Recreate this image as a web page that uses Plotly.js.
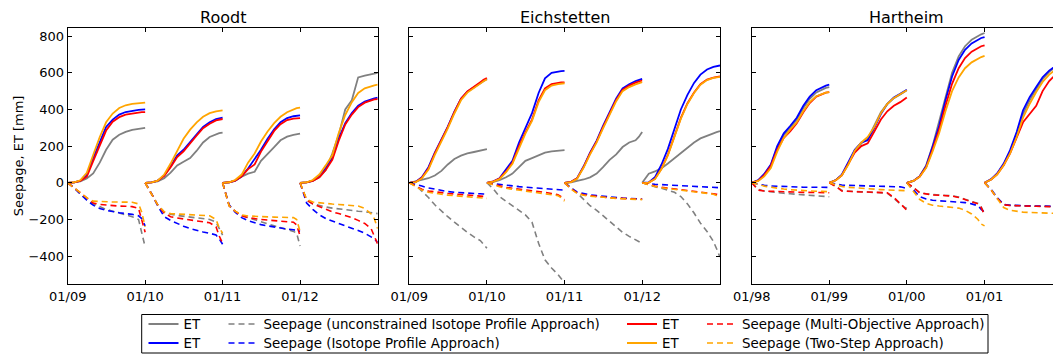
<!DOCTYPE html>
<html>
<head>
<meta charset="utf-8">
<script src="https://cdn.plot.ly/plotly-3.0.1.min.js"></script>
<style>html,body{margin:0;padding:0;background:#fff;}#chart{width:1053px;height:354px;}</style>
</head>
<body>
<div id="chart"></div>
<script>
// month offsets of the sampled points within each year (0 = 1 Jan, 12 = 1 Jan of next year)
const MONTHS = [0,1,2,3,4,5,6,7,8,9,10,11,11.5,12];

const panelNames = ['Roodt', 'Eichstetten', 'Hartheim'];
const roodtYears = [2009, 2010, 2011, 2012];
const eichYears = [2009, 2010, 2011, 2012];
const hartYears = [1998, 1999, 2000, 2001];
const tickLabelsRoodt = ['01/09','01/10','01/11','01/12'];
const tickLabelsEich = ['01/09','01/10','01/11','01/12'];
const tickLabelsHart = ['01/98','01/99','01/00','01/01'];

// ---------- Roodt ----------
const roodtEtGray = [
  [0,2,8,24,51,110,180,235,262,278,289,295,298,300],
  [0,2,8,25,55,95,115,135,175,220,250,266,271,274],
  [0,3,10,33,50,60,120,155,195,232,252,262,266,268],
  [0,2,10,30,70,160,260,400,450,575,585,592,596,600]];
const roodtEtBlue = [
  [0,2,12,42,135,225,305,345,372,386,394,398,399,400],
  [0,2,12,40,90,150,180,220,265,305,330,348,352,355],
  [0,3,12,35,78,130,180,240,292,330,353,363,366,368],
  [0,2,12,35,80,135,240,325,380,420,443,456,461,465]];
const roodtEtRed = [
  [0,2,10,33,118,205,285,333,358,372,379,383,385,386],
  [0,2,11,38,85,140,172,212,258,298,322,340,345,348],
  [0,3,12,35,75,100,170,230,283,320,342,350,352,353],
  [0,2,10,30,70,125,228,318,372,413,437,450,455,457]];
const roodtEtOrange = [
  [0,3,14,55,152,250,330,378,408,423,430,434,436,437],
  [0,2,12,45,105,170,240,290,330,360,380,390,393,395],
  [0,3,15,45,110,160,225,280,325,360,385,402,407,410],
  [0,3,15,45,95,150,270,370,440,490,515,527,532,535]];
const roodtSeepGray = [
  [0,-28,-60,-92,-115,-132,-145,-155,-165,-175,-185,-200,-270,-350],
  [0,-60,-120,-160,-172,-178,-182,-186,-190,-195,-200,-215,-250,-285],
  [0,-125,-155,-178,-190,-200,-212,-224,-235,-245,-255,-265,-275,-345],
  [0,-95,-115,-125,-132,-138,-143,-148,-152,-155,-158,-162,-165,-168]];
const roodtSeepBlue = [
  [0,-28,-60,-95,-122,-140,-150,-158,-163,-168,-172,-180,-195,-235],
  [0,-60,-125,-185,-205,-222,-237,-250,-260,-268,-275,-285,-305,-335],
  [0,-120,-160,-190,-207,-218,-228,-235,-242,-248,-252,-256,-260,-265],
  [0,-110,-145,-175,-195,-210,-222,-235,-247,-260,-275,-292,-305,-325]];
const roodtSeepRed = [
  [0,-28,-58,-85,-110,-118,-122,-125,-127,-128,-130,-140,-210,-270],
  [0,-60,-120,-165,-185,-192,-197,-200,-205,-210,-218,-240,-290,-330],
  [0,-125,-155,-180,-190,-196,-200,-203,-206,-209,-212,-215,-230,-290],
  [0,-95,-115,-130,-145,-158,-168,-178,-190,-205,-222,-250,-290,-335]];
const roodtSeepOrange = [
  [0,-28,-58,-82,-100,-103,-104,-105,-105,-105,-106,-115,-160,-240],
  [0,-60,-120,-158,-168,-170,-172,-173,-175,-176,-180,-200,-245,-275],
  [0,-125,-155,-175,-181,-184,-185,-186,-187,-188,-189,-190,-200,-265],
  [0,-90,-105,-110,-113,-116,-118,-120,-122,-127,-140,-170,-195,-250]];

// ---------- Eichstetten ----------
const eichEtGray = [
  [0,8,15,25,40,65,100,130,148,160,168,175,180,184],
  [0,5,15,30,50,85,120,135,150,165,172,175,177,178],
  [0,3,10,18,30,50,85,125,155,195,220,232,250,277],
  [0,50,62,80,105,135,165,195,220,242,258,270,276,282]];
const eichEtBlue = [
  [0,6,30,85,165,235,306,388,458,497,520,545,558,568],
  [0,8,25,70,120,220,300,380,490,570,600,607,609,610],
  [0,5,25,90,165,230,310,385,460,515,538,555,562,567],
  [0,2,30,100,185,300,400,480,545,590,618,632,637,640]];
const eichEtRed = [
  [0,5,27,78,160,232,304,386,458,498,522,549,562,572],
  [0,8,23,62,110,200,275,345,450,515,538,545,547,548],
  [0,5,24,87,160,225,303,378,452,507,530,546,553,558],
  [0,1,21,77,153,254,354,434,493,538,563,574,578,580]];
const eichEtOrange = [
  [0,4,24,72,152,225,297,378,450,492,515,541,554,564],
  [0,7,20,58,104,192,268,338,440,505,530,538,541,543],
  [0,4,22,83,155,220,297,371,445,500,522,537,544,549],
  [0,1,20,75,150,250,350,430,490,535,560,572,576,578]];
const eichSeepGray = [
  [0,-15,-45,-80,-120,-155,-185,-215,-245,-270,-295,-315,-335,-357],
  [0,-35,-75,-100,-125,-150,-175,-215,-330,-420,-465,-500,-525,-545],
  [0,-25,-55,-90,-125,-150,-180,-210,-240,-270,-292,-310,-320,-330],
  [0,-12,-22,-30,-40,-52,-75,-115,-165,-220,-265,-320,-360,-405]];
const eichSeepBlue = [
  [0,-8,-18,-28,-35,-42,-48,-52,-55,-57,-59,-60,-61,-62],
  [0,-5,-10,-15,-18,-21,-24,-26,-28,-30,-32,-35,-37,-40],
  [0,-30,-50,-60,-66,-70,-74,-78,-81,-83,-85,-87,-88,-89],
  [0,-5,-8,-10,-12,-14,-16,-18,-20,-22,-24,-25,-26,-27]];
const eichSeepRed = [
  [0,-18,-35,-45,-50,-55,-58,-61,-64,-67,-70,-73,-74,-76],
  [0,-10,-18,-25,-30,-34,-38,-42,-47,-52,-58,-65,-75,-92],
  [0,-32,-55,-65,-70,-75,-79,-82,-84,-86,-88,-89,-90,-90],
  [0,-10,-18,-24,-28,-32,-36,-40,-44,-48,-52,-56,-62,-72]];
const eichSeepOrange = [
  [0,-20,-40,-52,-58,-63,-67,-70,-73,-76,-79,-82,-83,-85],
  [0,-12,-22,-30,-35,-39,-43,-47,-52,-57,-63,-70,-82,-100],
  [0,-35,-58,-68,-73,-77,-80,-83,-85,-87,-89,-90,-91,-92],
  [0,-12,-20,-27,-31,-35,-39,-43,-47,-51,-56,-62,-70,-82]];

// ---------- Hartheim ----------
const hartEtGray = [
  [0,14,45,95,190,262,300,345,408,458,493,512,518,522],
  [0,15,42,105,175,215,240,310,385,430,462,482,493,505],
  [0,10,35,95,200,330,470,600,690,745,780,803,810,817],
  [0,18,48,100,170,265,375,450,510,565,605,635,645,655]];
const hartEtBlue = [
  [0,15,48,100,200,270,310,355,420,470,505,523,530,535],
  [0,15,45,110,180,220,232,300,375,430,465,485,495,507],
  [0,10,35,90,195,310,450,580,670,725,760,782,790,795],
  [0,20,51,105,178,277,395,467,522,576,612,640,650,660]];
const hartEtRed = [
  [0,12,42,92,180,245,280,325,385,435,470,486,492,495],
  [0,14,40,100,165,200,215,280,345,390,420,440,452,465],
  [0,10,33,85,180,290,420,540,625,680,715,737,745,750],
  [0,18,46,95,160,245,330,375,420,500,555,590,605,615]];
const hartEtOrange = [
  [0,10,35,80,170,245,290,330,390,440,472,487,492,495],
  [0,14,40,100,175,220,250,305,380,430,463,485,495,505],
  [0,10,32,82,170,270,390,500,575,625,657,678,686,692],
  [0,18,45,95,160,250,355,430,495,550,590,620,630,640]];
const hartSeepGray = [
  [0,-35,-45,-50,-54,-57,-60,-63,-66,-68,-70,-72,-74,-76],
  [0,-18,-42,-46,-48,-49,-50,-51,-52,-56,-85,-115,-130,-140],
  [0,-25,-52,-60,-64,-67,-69,-71,-78,-90,-102,-112,-132,-170],
  [0,-38,-83,-119,-123,-125,-126,-127,-128,-128,-129,-130,-130,-131]];
const hartSeepBlue = [
  [0,-8,-13,-17,-19,-21,-22,-23,-24,-24,-25,-25,-25,-25],
  [0,-8,-12,-14,-15,-16,-17,-17,-18,-18,-19,-22,-26,-31],
  [0,-40,-75,-88,-95,-98,-100,-102,-104,-108,-115,-125,-145,-160],
  [0,-35,-80,-118,-122,-124,-125,-126,-127,-127,-128,-129,-129,-130]];
const hartSeepRed = [
  [0,-40,-45,-47,-48,-49,-50,-51,-52,-52,-53,-53,-54,-54],
  [0,-20,-45,-48,-49,-50,-50,-51,-52,-55,-80,-110,-130,-150],
  [0,-25,-55,-62,-66,-68,-70,-72,-80,-92,-104,-115,-135,-175],
  [0,-40,-85,-120,-124,-126,-127,-128,-128,-129,-130,-130,-131,-131]];
const hartSeepOrange = [
  [0,-10,-18,-24,-30,-34,-38,-41,-43,-45,-46,-47,-48,-49],
  [0,-12,-20,-25,-28,-31,-33,-35,-37,-39,-40,-41,-42,-43],
  [0,-45,-90,-112,-122,-127,-130,-133,-138,-150,-170,-200,-225,-235],
  [0,-38,-85,-135,-150,-156,-160,-162,-164,-165,-166,-167,-168,-168]];

const legendNames = {
  et: 'ET',
  seepGray: 'Seepage (unconstrained Isotope Profile Approach)',
  seepBlue: 'Seepage (Isotope Profile Approach)',
  seepRed: 'Seepage (Multi-Objective Approach)',
  seepOrange: 'Seepage (Two-Step Approach)'
};

const COL = {gray:'#808080', blue:'#0000ff', red:'#ff0000', orange:'#ffa500'};

function dateOf(year, m) {
  if (m === 12) return (year + 1) + '-01-01';
  if (m === 11.5) return year + '-12-16';
  return year + '-' + String(m + 1).padStart(2, '0') + '-01';
}

function buildXY(years, segs) {
  const x = [], y = [];
  segs.forEach((seg, i) => {
    seg.forEach((v, j) => { x.push(dateOf(years[i], MONTHS[j])); y.push(v); });
    if (i < segs.length - 1) { x.push(dateOf(years[i], 12)); y.push(null); }
  });
  return {x, y};
}

const W = 1053, H = 354;
const px = v => v / W;
const py = v => 1 - v / H;

const panels = [
  {years: roodtYears, ax: '',
   s: [roodtEtGray, roodtEtBlue, roodtSeepGray, roodtSeepBlue, roodtEtRed, roodtEtOrange, roodtSeepRed, roodtSeepOrange]},
  {years: eichYears, ax: '2',
   s: [eichEtGray, eichEtBlue, eichSeepGray, eichSeepBlue, eichEtRed, eichEtOrange, eichSeepRed, eichSeepOrange]},
  {years: hartYears, ax: '3',
   s: [hartEtGray, hartEtBlue, hartSeepGray, hartSeepBlue, hartEtRed, hartEtOrange, hartSeepRed, hartSeepOrange]}
];

// legend cells: column left edge (px) and row centre (px)
const legCols = [143.5, 223.5, 622, 702];
const legRows = [324.3, 343.3];

const styles = [
  {c: COL.gray, dash: 'solid', name: legendNames.et, lg: 'legend', col: 0, row: 0},
  {c: COL.blue, dash: 'solid', name: legendNames.et, lg: 'legend5', col: 0, row: 1},
  {c: COL.gray, dash: '6px,4px', name: legendNames.seepGray, lg: 'legend2', col: 1, row: 0},
  {c: COL.blue, dash: '6px,4px', name: legendNames.seepBlue, lg: 'legend6', col: 1, row: 1},
  {c: COL.red, dash: 'solid', name: legendNames.et, lg: 'legend3', col: 2, row: 0},
  {c: COL.orange, dash: 'solid', name: legendNames.et, lg: 'legend7', col: 2, row: 1},
  {c: COL.red, dash: '6px,4px', name: legendNames.seepRed, lg: 'legend4', col: 3, row: 0},
  {c: COL.orange, dash: '6px,4px', name: legendNames.seepOrange, lg: 'legend8', col: 3, row: 1}
];

const traces = [];
panels.forEach((p, pi) => {
  p.s.forEach((segs, si) => {
    const st = styles[si];
    const xy = buildXY(p.years, segs);
    traces.push({
      type: 'scatter', mode: 'lines', x: xy.x, y: xy.y,
      xaxis: 'x' + p.ax, yaxis: 'y' + p.ax,
      name: st.name, legend: st.lg, showlegend: pi === 0,
      connectgaps: false,
      line: {color: st.c, width: st.dash === 'solid' ? 1.8 : 1.6, dash: st.dash},
      hoverinfo: 'skip'
    });
  });
});

const FONT = 'DejaVu Sans, Verdana, sans-serif';
const tickFont = {family: FONT, size: 13, color: '#000'};
const yDom = [py(284), py(27.7)];
const yRange = [-552, 846];

function xAxis(years, labels, dom, endDate, anchor) {
  return {
    type: 'date', domain: dom, anchor: anchor,
    range: [years[0] + '-01-01', endDate],
    tickvals: years.map(y => y + '-01-01'), ticktext: labels,
    showgrid: false, zeroline: false, showline: true, linecolor: '#000', linewidth: 1,
    mirror: 'allticks', ticks: 'inside', ticklen: 4, tickcolor: '#000', tickwidth: 1,
    tickfont: tickFont, automargin: false, fixedrange: true
  };
}
function yAxis(showLabels, anchor, mirror) {
  return {
    domain: yDom, anchor: anchor, range: yRange,
    tickvals: [-400,-200,0,200,400,600,800],
    showticklabels: showLabels,
    showgrid: false, zeroline: false, showline: true, linecolor: '#000', linewidth: 1,
    mirror: mirror, ticks: 'inside', ticklen: 4, tickcolor: '#000', tickwidth: 1,
    tickfont: tickFont, automargin: false, fixedrange: true
  };
}

const layout = {
  width: W, height: H,
  margin: {l: 0, r: 0, t: 0, b: 0, pad: 0, autoexpand: false},
  paper_bgcolor: '#fff', plot_bgcolor: '#fff',
  showlegend: true,
  xaxis: xAxis(roodtYears, tickLabelsRoodt, [px(67.7), px(377.7)], '2013-01-01', 'y'),
  xaxis2: xAxis(eichYears, tickLabelsEich, [px(409.3), px(720)], '2013-01-01', 'y2'),
  xaxis3: xAxis(hartYears, tickLabelsHart, [px(751.7), 1], '2001-11-19', 'y3'),
  yaxis: yAxis(true, 'x', 'allticks'),
  yaxis2: yAxis(false, 'x2', 'allticks'),
  yaxis3: yAxis(false, 'x3', false),
  annotations: [
    {text: panelNames[0], xref: 'x', x: '2011-01-01', yref: 'paper', y: py(17.5), xanchor: 'center', yanchor: 'middle', showarrow: false, font: {family: FONT, size: 16, color: '#000'}},
    {text: panelNames[1], xref: 'x2', x: '2011-01-01', yref: 'paper', y: py(17.5), xanchor: 'center', yanchor: 'middle', showarrow: false, font: {family: FONT, size: 16, color: '#000'}},
    {text: panelNames[2], xref: 'x3', x: '2000-01-01', yref: 'paper', y: py(17.5), xanchor: 'center', yanchor: 'middle', showarrow: false, font: {family: FONT, size: 16, color: '#000'}},
    {text: 'Seepage, ET [mm]', xref: 'paper', x: px(18.5), yref: 'paper', y: py(155.8), xanchor: 'center', yanchor: 'middle', textangle: -90, showarrow: false, font: {family: FONT, size: 13, color: '#000'}}
  ],
  shapes: [
    {type: 'rect', xref: 'paper', yref: 'paper', x0: px(141.7), x1: px(988), y0: py(353), y1: py(314.5), line: {color: '#000', width: 1}, fillcolor: 'rgba(0,0,0,0)'}
  ]
};

styles.forEach(st => {
  layout[st.lg] = {
    x: px(legCols[st.col]), y: py(legRows[st.row]),
    xanchor: 'left', yanchor: 'middle',
    bgcolor: 'rgba(0,0,0,0)', borderwidth: 0, tracegroupgap: 0,
    font: {family: FONT, size: 13.4, color: '#000'}, orientation: 'v'
  };
});

Plotly.newPlot('chart', traces, layout, {staticPlot: true, displayModeBar: false});
</script>
</body>
</html>
